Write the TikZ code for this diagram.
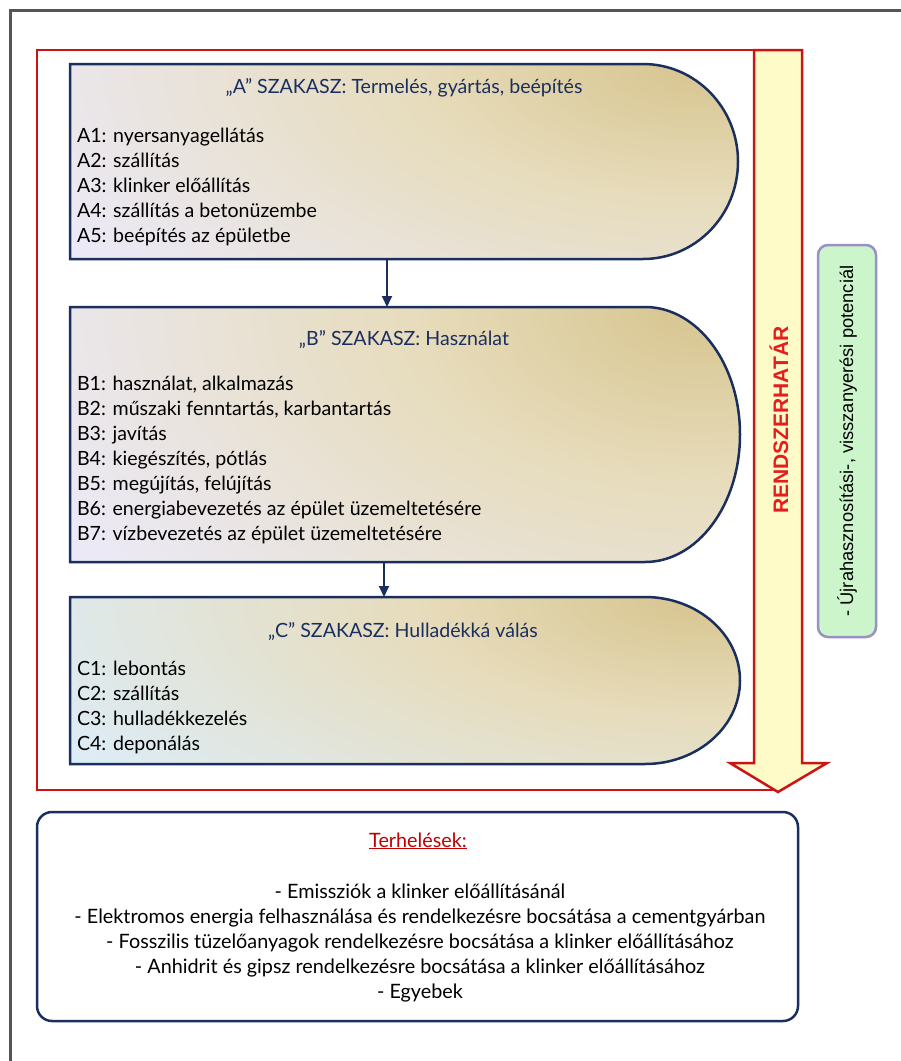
\documentclass[tikz,border=0pt]{standalone}
\usepackage{fontspec}
\setmainfont{Lato}
\newfontfamily\arialfont{Liberation Sans}
\usetikzlibrary{arrows.meta,calc}
\definecolor{navy}{HTML}{1B2F5E}
\definecolor{tan}{HTML}{D7C58F}
\definecolor{tanmid}{HTML}{E7DCBC}
\definecolor{lav}{HTML}{EBE9F6}
\definecolor{lblue}{HTML}{DDECF5}
\definecolor{redline}{HTML}{CC1414}
\definecolor{rhred}{HTML}{E41E1E}
\definecolor{arrowfill}{HTML}{FFFBC8}
\definecolor{gfill}{HTML}{CCF5CC}
\definecolor{gdraw}{HTML}{9A90C8}
\definecolor{framec}{HTML}{555555}
\definecolor{textred}{HTML}{C00000}
\pgfdeclareradialshading{glowlav}{\pgfpoint{0bp}{0bp}}{color(0bp)=(tan); color(10bp)=(tanmid); color(25bp)=(lav); color(50bp)=(lav)}
\pgfdeclareradialshading{glowblue}{\pgfpoint{0bp}{0bp}}{color(0bp)=(tan); color(10bp)=(tanmid); color(25bp)=(lblue); color(50bp)=(lblue)}
\begin{document}
\begin{tikzpicture}[x=1pt,y=-1pt,
  every node/.style={inner sep=0pt,outer sep=0pt},
  item/.style={anchor=base west,font=\fontsize{19.6}{25}\selectfont,text=black},
  ttl/.style={anchor=base,font=\fontsize{19.6}{25}\selectfont,text=navy},
  load/.style={anchor=base,font=\fontsize{19.8}{25}\selectfont,text=black},
  phase/.style={draw=none,anchor=north west},
  shapeline/.style={draw=navy,line width=2.5pt},
  conn/.style={draw=navy,line width=2pt,-{Triangle[length=11pt,width=10pt]}}
]
\useasboundingbox (0,0) rectangle (901,1061);
\clip (0,0) rectangle (901,1061);
\fill[white] (0,0) rectangle (901,1061);
% outer frame
\draw[framec,line width=3pt] (10,10) rectangle (930,1090);
% system boundary
\draw[redline,line width=2.5pt] (776,790) -- (37,790) -- (37,50) -- (760,50);
\draw[redline,line width=2.5pt,fill=arrowfill,line join=miter]
  (754,50) -- (802,50) -- (802,763) -- (827,763) -- (778,792) -- (730,763) -- (754,763) -- cycle;
\node[rotate=90,font=\arialfont\bfseries\fontsize{21}{24}\selectfont,text=rhred] (rh) at (779,420) {RENDSZERHATÁR};
% green box
\node[rotate=90,draw=gdraw,fill=gfill,line width=2.5pt,rounded corners=10pt,
  minimum width=392pt,minimum height=58pt,font=\arialfont\fontsize{18.3}{20}\selectfont] (gb) at (847,441)
  {- Újrahasznosítási-, visszanyerési potenciál};
% phase A
\node[phase,minimum width=668pt,minimum height=195pt] (boxA) at (70,64) {};
\begin{scope}
\clip (boxA.north west) -- ($(boxA.north east)+(-95,0)$)
  arc[start angle=-90,end angle=90,x radius=95,y radius=97.5] -- (boxA.south west) -- cycle;
\fill[lav] (boxA.north west) rectangle (boxA.south east);
\shade[shading=glowlav] ($(boxA.north east)+(-40,0)$) ellipse [x radius=720,y radius=340];
\end{scope}
\path[shapeline] (boxA.north west) -- ($(boxA.north east)+(-95,0)$)
  arc[start angle=-90,end angle=90,x radius=95,y radius=97.5] -- (boxA.south west) -- cycle;
\node[ttl] (tA) at (404,93) {„A” SZAKASZ: Termelés, gyártás, beépítés};
\foreach \t [count=\i] in {{A1: nyersanyagellátás},{A2: szállítás},{A3: klinker előállítás},{A4: szállítás a betonüzembe},{A5: beépítés az épületbe}}
  \node[item] (a\i) at (77,{117+25*\i}) {\t};
% phase B
\node[phase,minimum width=670pt,minimum height=255pt] (boxB) at (70,307) {};
\begin{scope}
\clip (boxB.north west) -- ($(boxB.north east)+(-95,0)$)
  arc[start angle=-90,end angle=90,x radius=95,y radius=127.5] -- (boxB.south west) -- cycle;
\fill[lav] (boxB.north west) rectangle (boxB.south east);
\shade[shading=glowlav] ($(boxB.north east)+(-40,0)$) ellipse [x radius=720,y radius=440];
\end{scope}
\path[shapeline] (boxB.north west) -- ($(boxB.north east)+(-95,0)$)
  arc[start angle=-90,end angle=90,x radius=95,y radius=127.5] -- (boxB.south west) -- cycle;
\node[ttl] (tB) at (404,345) {„B” SZAKASZ: Használat};
\foreach \t [count=\i] in {{B1: használat, alkalmazás},{B2: műszaki fenntartás, karbantartás},{B3: javítás},{B4: kiegészítés, pótlás},{B5: megújítás, felújítás},{B6: energiabevezetés az épület üzemeltetésére},{B7: vízbevezetés az épület üzemeltetésére}}
  \node[item] (b\i) at (77,{365+25*\i}) {\t};
% phase C
\node[phase,minimum width=670pt,minimum height=167pt] (boxC) at (70,597) {};
\begin{scope}
\clip (boxC.north west) -- ($(boxC.north east)+(-95,0)$)
  arc[start angle=-90,end angle=90,x radius=95,y radius=83.5] -- (boxC.south west) -- cycle;
\fill[lblue] (boxC.north west) rectangle (boxC.south east);
\shade[shading=glowblue] ($(boxC.north east)+(-40,0)$) ellipse [x radius=720,y radius=300];
\end{scope}
\path[shapeline] (boxC.north west) -- ($(boxC.north east)+(-95,0)$)
  arc[start angle=-90,end angle=90,x radius=95,y radius=83.5] -- (boxC.south west) -- cycle;
\node[ttl] (tC) at (403,637) {„C” SZAKASZ: Hulladékká válás};
\foreach \t [count=\i] in {{C1: lebontás},{C2: szállítás},{C3: hulladékkezelés},{C4: deponálás}}
  \node[item] (c\i) at (77,{650+25*\i}) {\t};
% connectors
\coordinate (x1) at (387,0);
\coordinate (x2) at (384,0);
\draw[conn] (boxA.south -| x1) -- (boxB.north -| x1);
\draw[conn] (boxB.south -| x2) -- (boxC.north -| x2);
% loads box
\node[phase,draw=navy,line width=2.5pt,rounded corners=15pt,fill=white,minimum width=761pt,minimum height=209pt] (loads) at (37,812) {};
\node[load,text=textred] (lt) at (418,847) {\underline{Terhelések:}};
\foreach \t [count=\i] in {{- Emissziók a klinker előállításánál},{- Elektromos energia felhasználása és rendelkezésre bocsátása a cementgyárban},{- Fosszilis tüzelőanyagok rendelkezésre bocsátása a klinker előállításához},{- Anhidrit és gipsz rendelkezésre bocsátása a klinker előállításához},{- Egyebek}}
  \node[load] (l\i) at (420,{873+25*\i}) {\t};
\end{tikzpicture}
\end{document}
